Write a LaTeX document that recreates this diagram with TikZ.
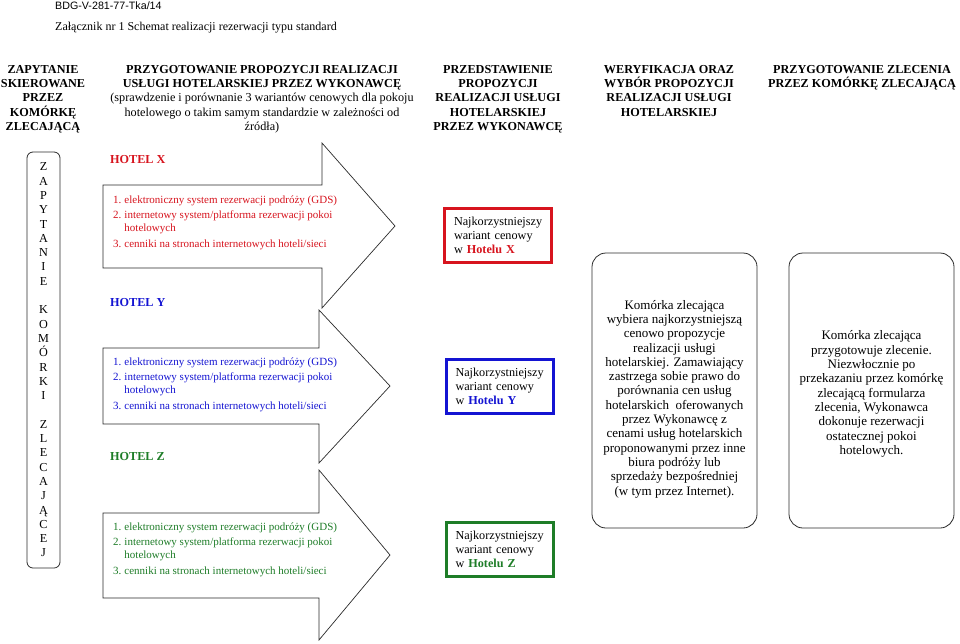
\documentclass[tikz,border=0pt]{standalone}
\usepackage{fontspec}
\setmainfont{Liberation Serif}
\newfontfamily\docsans{Liberation Sans}
\usepackage{xcolor}
\definecolor{HotelRed}{HTML}{D7141E}
\definecolor{HotelBlue}{HTML}{1414D2}
\definecolor{HotelGreen}{HTML}{1E7D28}
\definecolor{FrameGrey}{HTML}{2A2A2A}

\begin{document}
\begin{tikzpicture}[
  x=1pt, y=-1pt,
  header/.style={align=center, inner sep=0pt, anchor=north, font=\fontsize{12.2}{14.3}\selectfont\bfseries},
  hotel/.style={anchor=west, inner sep=0pt, text=#1, font=\fontsize{12.2}{14}\selectfont\bfseries},
  channels/.style={anchor=north west, inner sep=0pt, text=#1, font=\fontsize{11}{13}\selectfont},
  bigarrow/.style={draw=FrameGrey, line width=0.7pt, line join=miter, fill=white},
  offer/.style={draw=#1, line width=3pt, text width=88pt, minimum width=107pt, minimum height=54pt, inner xsep=9.5pt, align=left, font=\fontsize{12.2}{14}\selectfont},
  stepbox/.style={draw=FrameGrey, line width=0.8pt, rounded corners=14pt, minimum width=165pt, minimum height=275pt},
  steptext/.style={align=center, inner sep=0pt, font=\fontsize{13}{14.3}\selectfont}
]
\useasboundingbox (0,0) rectangle (960,643);

\node[anchor=west, inner sep=0pt, font=\docsans\fontsize{10.7}{12}\selectfont] (docid) at (55,6) {BDG-V-281-77-Tka/14};
\node[anchor=west, inner sep=0pt, font=\fontsize{12}{14}\selectfont] (title) at (55,28) {Załącznik nr 1 Schemat realizacji rezerwacji typu standard};

\node[header] (hInquiry) at (43,65) {ZAPYTANIE\\SKIEROWANE\\PRZEZ\\KOMÓRKĘ\\ZLECAJĄCĄ};
\node[header] (hPrepare) at (262,65) {PRZYGOTOWANIE PROPOZYCJI REALIZACJI\\USŁUGI HOTELARSKIEJ PRZEZ WYKONAWCĘ\\\mdseries(sprawdzenie i porównanie 3 wariantów cenowych dla pokoju\\\mdseries hotelowego o takim samym standardzie w zależności od\\\mdseries źródła)};
\node[header] (hPresent) at (498,65) {PRZEDSTAWIENIE\\PROPOZYCJI\\REALIZACJI USŁUGI\\HOTELARSKIEJ\\PRZEZ WYKONAWCĘ};
\node[header] (hVerify) at (669,65) {WERYFIKACJA ORAZ\\WYBÓR PROPOZYCJI\\REALIZACJI USŁUGI\\HOTELARSKIEJ};
\node[header] (hOrder) at (862,65) {PRZYGOTOWANIE ZLECENIA\\PRZEZ KOMÓRKĘ ZLECAJĄCĄ};

\node[draw=FrameGrey, line width=0.8pt, rounded corners=6pt, minimum width=33pt, minimum height=416pt, align=center, font=\fontsize{12.2}{14.3}\selectfont] (inquiry) at (43.5,360)
  {Z\\A\\P\\Y\\T\\A\\N\\I\\E\\[14.3pt]K\\O\\M\\Ó\\R\\K\\I\\[14.3pt]Z\\L\\E\\C\\A\\J\\Ą\\C\\E\\J};

\draw[bigarrow] (103,185) -- (322,185) -- (322,143) -- (395,226) -- (322,308) -- (322,268) -- (103,268) -- cycle;
\draw[bigarrow] (103,348) -- (319,348) -- (319,310) -- (390,386) -- (319,463) -- (319,424) -- (103,424) -- cycle;
\draw[bigarrow] (103,513) -- (319,513) -- (319,470) -- (390,555) -- (319,640) -- (319,598) -- (103,598) -- cycle;

\node[hotel=HotelRed] (hotelX) at (110,160) {HOTEL X};
\node[hotel=HotelBlue] (hotelY) at (110,303) {HOTEL Y};
\node[hotel=HotelGreen] (hotelZ) at (110,457) {HOTEL Z};

\node[channels=HotelRed] (listX) at (113,194) {\begin{tabular}{@{}l@{\hspace{3pt}}l@{}}1. & elektroniczny system rezerwacji podróży (GDS)\\[2.5pt] 2. & internetowy system/platforma rezerwacji pokoi\\ & hotelowych\\[2.5pt] 3. & cenniki na stronach internetowych hoteli/sieci\end{tabular}};
\node[channels=HotelBlue] (listY) at (113,356) {\begin{tabular}{@{}l@{\hspace{3pt}}l@{}}1. & elektroniczny system rezerwacji podróży (GDS)\\[2.5pt] 2. & internetowy system/platforma rezerwacji pokoi\\ & hotelowych\\[2.5pt] 3. & cenniki na stronach internetowych hoteli/sieci\end{tabular}};
\node[channels=HotelGreen] (listZ) at (113,521) {\begin{tabular}{@{}l@{\hspace{3pt}}l@{}}1. & elektroniczny system rezerwacji podróży (GDS)\\[2.5pt] 2. & internetowy system/platforma rezerwacji pokoi\\ & hotelowych\\[2.5pt] 3. & cenniki na stronach internetowych hoteli/sieci\end{tabular}};

\node[offer=HotelRed] (offerX) at (498,235.5) {Najkorzystniejszy\\wariant cenowy\\w \textcolor{HotelRed}{\bfseries Hotelu X}};
\node[offer=HotelBlue] (offerY) at (499.5,386) {Najkorzystniejszy\\wariant cenowy\\w \textcolor{HotelBlue}{\bfseries Hotelu Y}};
\node[offer=HotelGreen] (offerZ) at (499.5,549.5) {Najkorzystniejszy\\wariant cenowy\\w \textcolor{HotelGreen}{\bfseries Hotelu Z}};

\node[stepbox] (choice) at (674.5,390.5) {};
\node[steptext] (choiceText) at ([yshift=-8.5pt]choice.center) {Komórka zlecająca\\wybiera najkorzystniejszą\\cenowo propozycje\\realizacji usługi\\hotelarskiej. Zamawiający\\zastrzega sobie prawo do\\porównania cen usług\\hotelarskich\ \ oferowanych\\przez Wykonawcę z\\cenami usług hotelarskich\\proponowanymi przez inne\\biura podróży lub\\sprzedaży bezpośredniej\\(w tym przez Internet).};
\node[stepbox] (order) at (871.5,390.5) {};
\node[steptext] (orderText) at ([yshift=-3.5pt]order.center) {Komórka zlecająca\\przygotowuje zlecenie.\\Niezwłocznie po\\przekazaniu przez komórkę\\zlecającą formularza\\zlecenia, Wykonawca\\dokonuje rezerwacji\\ostatecznej pokoi\\hotelowych.};
\end{tikzpicture}
\end{document}
